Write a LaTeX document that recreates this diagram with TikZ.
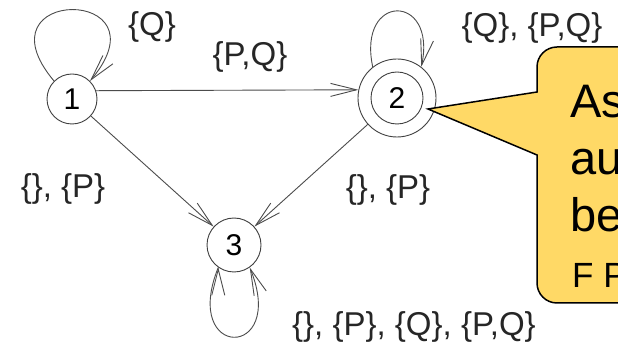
\documentclass[tikz,border=0pt]{standalone}
\usepackage{fontspec}
\setmainfont{Liberation Sans}
\usetikzlibrary{arrows.meta}

\definecolor{noteyellow}{RGB}{255,217,102}

\begin{document}
\begin{tikzpicture}[x=1pt, y=1pt,
    state/.style={circle, draw=black!75, line width=0.9pt, inner sep=0pt,
      minimum size=50pt, font=\fontsize{30}{30}\selectfont},
    lbl/.style={inner sep=0pt, text=black!85, font=\fontsize{33}{33}\selectfont},
    trans/.style={draw=black!70, line width=0.9pt,
      -{Straight Barb[length=26pt,width=13pt]}},
    note/.style={inner sep=0pt, anchor=base west, font=\fontsize{47}{47}\selectfont}]
  \useasboundingbox (0,0) rectangle (618,345);
  \clip (0,0) rectangle (618,345);
  \fill[white] (0,0) rectangle (618,345);

  % states
  \node[state] (q1) at (72,246) {1};
  \node[state, minimum size=52pt] (q2) at (397,247) {2};
  \node[state, minimum size=78pt] (q2o) at (397,247) {};
  \node[state, minimum size=54pt] (q3) at (234,100) {3};

  % transitions
  \path[trans]
    (q1.135) edge[out=130, in=50, distance=124pt] (q1.45)
    (q1.19)  edge (q2o.168)
    (q1)     edge (q3)
    (q2o.128) edge[out=102, in=78, distance=76pt] (q2o.52)
    (q2o)    edge (q3)
    (q3.235) edge[out=248, in=292, distance=100pt] (q3.305);

  \node[lbl] (l11) at (152,318) {\{Q\}};
  \node[lbl] (l12) at (250,288) {\{P,Q\}};
  \node[lbl] (l22) at (532,317) {\{Q\}, \{P,Q\}};
  \node[lbl] (l13) at (63,156) {\{\}, \{P\}};
  \node[lbl] (l23) at (388,155) {\{\}, \{P\}};
  \node[lbl, anchor=west] (l33) at (292,18) {\{\}, \{P\}, \{Q\}, \{P,Q\}};

  % callout
  \draw[fill=noteyellow, line width=1.5pt]
    (700,298) [rounded corners=20pt] -- (537,298) [sharp corners] -- (537,253)
    -- (428,236) -- (537,190) [rounded corners=20pt] -- (537,42)
    -- (700,42) [sharp corners] -- cycle;
  \node[note] (n1) at (570,227) {As};
  \node[note] (n2) at (570,170) {au};
  \node[note] (n3) at (570,113) {be};
  \node[note, font=\fontsize{35}{35}\selectfont] (n4) at (572,57) {F P};
\end{tikzpicture}
\end{document}
